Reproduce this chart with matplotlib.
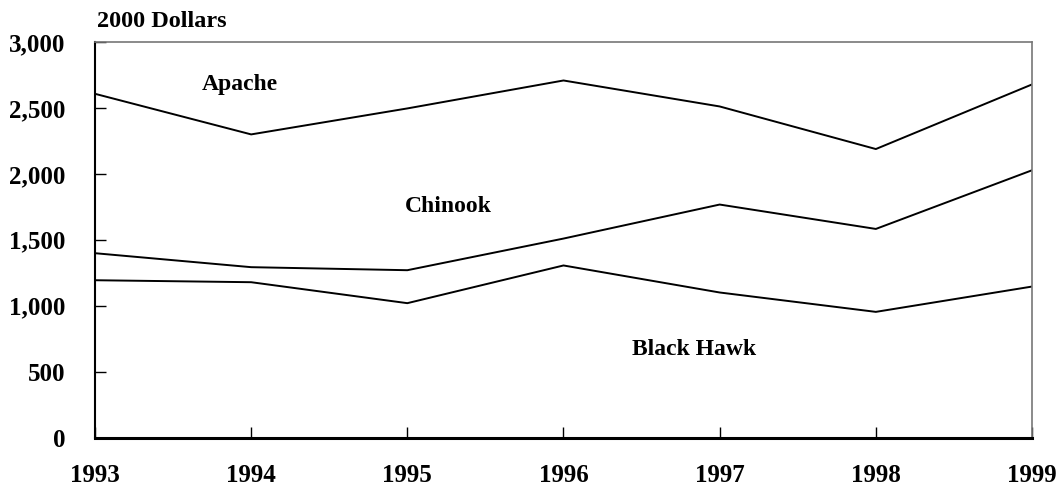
import matplotlib.pyplot as plt

plt.rcParams['font.family'] = ['Liberation Serif', 'DejaVu Serif']
plt.rcParams['font.weight'] = 'bold'

years = [1993, 1994, 1995, 1996, 1997, 1998, 1999]
apache = [2607, 2299, 2496, 2708, 2511, 2188, 2678]
chinook = [1398, 1292, 1269, 1509, 1767, 1582, 2027]
black_hawk = [1193, 1178, 1019, 1305, 1100, 953, 1145]

fig = plt.figure(figsize=(10.6, 4.87), dpi=100)
ax = fig.add_axes([0.0896, 0.1016, 0.8840, 0.8122])

for serie in [apache, chinook, black_hawk]:
    ax.plot(years, serie, color='black', linewidth=1.4)

ax.set_xlim(1993, 1999)
ax.set_ylim(0, 3000)
ax.set_xticks(years)
ax.set_yticks([0, 500, 1000, 1500, 2000, 2500, 3000])
ax.set_yticklabels(['0', '500', '1,000', '1,500', '2,000', '2,500', '3,000'])

ax.tick_params(axis='both', direction='in', length=8, width=1, labelsize=18)
ax.tick_params(axis='y', pad=21)
ax.tick_params(axis='x', pad=19)

ax.spines['left'].set_linewidth(1.5)
ax.spines['bottom'].set_linewidth(2.2)
ax.spines['top'].set_color('#777777')
ax.spines['right'].set_color('#777777')
ax.spines['top'].set_linewidth(1.2)
ax.spines['right'].set_linewidth(1.2)

# rótulos das séries
ax.text(1993.93, 2675, 'Apache', fontsize=17, fontweight='bold', ha='center', va='center')
ax.text(1995.26, 1755, 'Chinook', fontsize=17, fontweight='bold', ha='center', va='center')
ax.text(1996.835, 670, 'Black Hawk', fontsize=17, fontweight='bold', ha='center', va='center')

fig.text(0.0915, 0.955, '2000 Dollars', fontsize=17.5, fontweight='bold', ha='left', va='center')

plt.savefig('out.png', dpi=100)
